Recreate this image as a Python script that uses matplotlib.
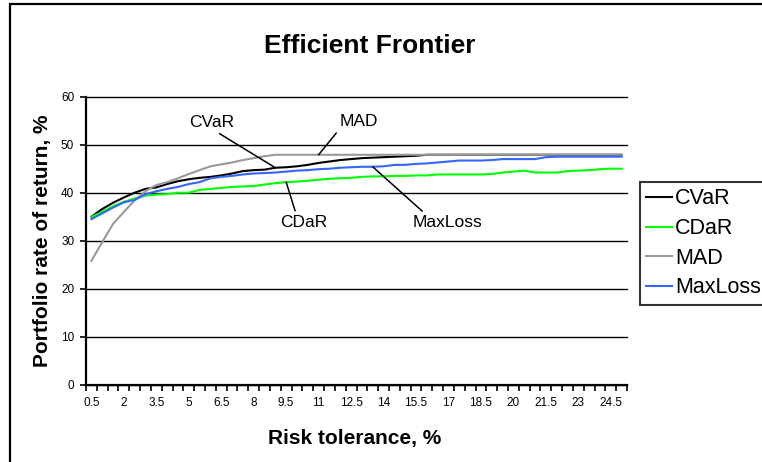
import numpy as np
import matplotlib
matplotlib.use("Agg")
import matplotlib.pyplot as plt
from matplotlib.patches import Rectangle

plt.rcParams["font.family"] = ["Liberation Sans", "DejaVu Sans"]

# categories: risk tolerance 0.5 .. 25 in steps of 0.5
risk = np.arange(1, 51) * 0.5

cvar = [35.0, 36.6, 37.9, 39.0, 40.0, 40.8, 41.1, 41.8, 42.4, 42.8,
        43.1, 43.3, 43.6, 44.0, 44.5, 44.7, 44.8, 45.2, 45.3, 45.5,
        45.8, 46.2, 46.5, 46.8, 47.0, 47.2, 47.3, 47.4, 47.5, 47.6,
        47.7, 47.9, 47.9, 47.9, 47.9, 47.9, 47.9, 47.9, 47.9, 47.9,
        47.9, 47.9, 47.9, 47.9, 47.9, 47.9, 47.9, 47.9, 47.9, 47.9]
cdar = [35.0, 36.0, 37.2, 38.1, 38.8, 39.4, 39.6, 39.7, 40.0, 40.0,
        40.6, 40.8, 41.0, 41.2, 41.3, 41.4, 41.7, 42.0, 42.2, 42.3,
        42.5, 42.7, 42.9, 43.0, 43.1, 43.3, 43.4, 43.4, 43.5, 43.5,
        43.6, 43.6, 43.8, 43.8, 43.8, 43.8, 43.8, 43.9, 44.2, 44.4,
        44.6, 44.2, 44.2, 44.2, 44.5, 44.6, 44.7, 44.9, 45.0, 45.0]
mad = [25.8, 29.7, 33.5, 36.0, 38.4, 40.3, 41.6, 42.2, 43.0, 43.9,
       44.7, 45.5, 45.9, 46.3, 46.8, 47.2, 47.6, 47.9, 47.9, 47.9,
       47.9, 47.9, 47.9, 47.9, 47.9, 47.9, 47.9, 47.9, 47.9, 47.9,
       47.9, 47.9, 47.9, 47.9, 47.9, 47.9, 47.9, 47.9, 47.9, 47.9,
       47.9, 47.9, 47.9, 47.9, 47.9, 47.9, 47.9, 47.9, 47.9, 47.9]
maxloss = [34.5, 35.7, 36.9, 38.0, 38.5, 39.7, 40.3, 40.8, 41.2, 41.8,
           42.2, 43.0, 43.3, 43.5, 43.8, 44.0, 44.1, 44.2, 44.4, 44.6,
           44.7, 44.9, 45.0, 45.2, 45.3, 45.4, 45.4, 45.5, 45.8, 45.8,
           46.0, 46.1, 46.3, 46.5, 46.7, 46.7, 46.7, 46.8, 47.0, 47.0,
           47.0, 47.0, 47.4, 47.5, 47.5, 47.5, 47.5, 47.5, 47.5, 47.5]

series = [("CVaR", cvar, "black"), ("CDaR", cdar, "#00ff00"),
          ("MAD", mad, "#999999"), ("MaxLoss", maxloss, "#3366ff")]

# data label: (series, category index, text position in data coords, relpos)
labels = [("CVaR", 17, (11.6, 54.6), (0.55, 0.0)),
          ("MAD", 21, (25.2, 54.8), (0.0, 0.0)),
          ("CDaR", 18, (20.1, 33.8), (0.35, 1.0)),
          ("MaxLoss", 26, (33.4, 33.8), (0.2, 1.0))]

W, H = 762, 462
fig = plt.figure(figsize=(W / 100, H / 100), dpi=100)
# chart-area border, runs off the right and bottom edges
fig.patches.append(Rectangle((10 / W, -0.1), 1.2, 1.1 - 4 / H, transform=fig.transFigure,
                             fill=False, edgecolor="black", lw=1.6))

ax = fig.add_axes([86 / W, 1 - 384.7 / H, (627 - 86) / W, (384.7 - 96.7) / H])
x = np.arange(len(risk)) + 0.5
data = {}
for name, vals, col in series:
    ax.plot(x, vals, color=col, lw=1.5, label=name)
    data[name] = vals

for name, i, xytext, rp in labels:
    ax.annotate(name, xy=(x[i], data[name][i]), xytext=xytext, fontsize=12.5,
                ha="center", va="center",
                arrowprops=dict(arrowstyle="-", color="black", lw=1.1,
                                shrinkA=1, shrinkB=0, relpos=rp))

ax.set_xlim(0, len(risk))
ax.set_ylim(0, 60)
ax.set_yticks(range(0, 61, 10))
ax.set_xticks(np.arange(len(risk) + 1), [""] * (len(risk) + 1))
ax.set_xticks(x[::3], [f"{v:g}" for v in risk[::3]], minor=True)
ax.tick_params(axis="x", which="major", length=4, width=1.2, direction="out")
ax.tick_params(axis="x", which="minor", length=0, pad=9, labelsize=8.5)
ax.tick_params(axis="y", length=4, width=1.2, pad=4.5, labelsize=8.5)
ax.grid(axis="y", color="black", lw=1.0)
for gl in ax.get_ygridlines():
    gl.set_clip_on(False)
ax.set_axisbelow(True)
for s in ("top", "right"):
    ax.spines[s].set_visible(False)
for s in ("left", "bottom"):
    ax.spines[s].set_linewidth(1.6)

fig.text(370 / W, 1 - 46 / H, "Efficient Frontier", fontsize=19, fontweight="bold",
         ha="center", va="center")
fig.text(355 / W, 1 - 444 / H, "Risk tolerance, %", fontsize=15, fontweight="bold",
         ha="center", va="baseline")
fig.text(43 / W, 1 - 241 / H, "Portfolio rate of return, %", fontsize=15,
         fontweight="bold", rotation=90, ha="center", va="center")

leg = fig.legend(loc="upper left", bbox_to_anchor=(640 / W, 1 - 182 / H), fontsize=15.5,
                 frameon=True, fancybox=False, handlelength=1.2, handletextpad=0.14,
                 borderpad=0.3, labelspacing=0.4, borderaxespad=0)
leg.get_frame().set_edgecolor("black")
leg.get_frame().set_linewidth(1.5)
for h in leg.legend_handles:
    h.set_linewidth(1.5)

fig.savefig("out.png", dpi=100)
